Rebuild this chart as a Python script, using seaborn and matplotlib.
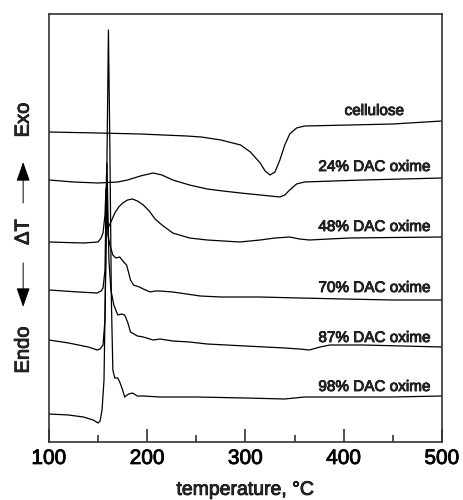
import numpy as np
import pandas as pd
import matplotlib
matplotlib.use("Agg")
import matplotlib.pyplot as plt
import matplotlib.patheffects as pe
import seaborn as sns

# -----------------------------
# DTA curves (temperature in C, signal in arbitrary units)
# -----------------------------
cellulose_T = [100, 150, 193, 240, 255, 275, 295, 305, 315, 320, 325, 330, 335, 340,
               345, 352, 360, 406, 450, 500]
cellulose_y = [368, 367, 366, 364, 363, 360, 355, 348, 337, 329, 325, 328, 340, 355,
               366, 372, 374, 375, 376, 379]

dac24_T = [100, 125, 150, 170, 180, 193, 206, 215, 226, 243, 261, 277, 295, 305, 315,
           325, 335, 340, 345, 352, 360, 389, 420, 460, 500]
dac24_y = [320, 318, 317, 318, 320, 324, 327, 325, 320, 315, 311, 309, 307, 306, 305,
           304, 303, 305, 310, 316, 318, 319, 320, 321, 322]

dac48_T = [100, 135, 150, 153, 155, 157, 158, 159, 160, 163, 167, 171, 175, 180, 185,
           190, 196, 202, 208, 215, 226, 243, 261, 294, 315, 330, 345, 355, 365, 385,
           406, 450, 500]
dac48_y = [258, 257, 258, 262, 267, 285, 312, 278, 272, 278, 287, 293, 297, 300, 301,
           299, 295, 289, 281, 275, 267, 262, 260, 258, 260, 262, 263, 261, 260, 261,
           262, 262.5, 263]

dac70_T = [100, 130, 149, 153, 155, 157, 158.5, 160, 162, 165, 168, 172, 176, 179, 183,
           186, 192, 196, 203, 208, 213, 226, 233, 254, 275, 315, 355, 400, 450, 500]
dac70_y = [210, 208, 207, 209, 212, 230, 325, 265, 255, 245, 242, 243, 238, 235, 220,
           215, 213, 211, 208, 209, 209, 208, 207, 204, 203, 203, 202, 201, 200, 200]

dac87_T = [100, 120, 140, 149, 152, 155, 157, 159, 161, 163, 166, 170, 174, 177, 180,
           183, 190, 196, 206, 213, 226, 243, 261, 300, 340, 355, 365, 376, 386, 420,
           460, 500]
dac87_y = [160, 157, 153, 150, 151, 155, 180, 337, 240, 210, 195, 185, 186, 185, 178,
           168, 164, 163, 160, 161, 159, 158, 156, 154, 152, 151, 150, 153, 155, 155,
           154, 153]

dac98_T = [100, 120, 135, 145, 150, 152, 154, 156, 158, 160.5, 162, 163.5, 165, 167,
           170, 172, 175, 177, 181, 185, 190, 196, 213, 250, 300, 340, 360, 400, 450, 500]
dac98_y = [86, 85, 83, 80, 77, 79, 90, 120, 250, 470, 350, 200, 130, 122, 122, 118,
           110, 103, 106, 107, 104, 104, 103, 103, 102, 101, 103, 103, 103, 104]

curves = [
    ("cellulose", cellulose_T, cellulose_y, 389),
    ("24% DAC oxime", dac24_T, dac24_y, 333),
    ("48% DAC oxime", dac48_T, dac48_y, 273),
    ("70% DAC oxime", dac70_T, dac70_y, 212),
    ("87% DAC oxime", dac87_T, dac87_y, 162),
    ("98% DAC oxime", dac98_T, dac98_y, 113),
]

x_ticks = [100, 200, 300, 400, 500]

# -----------------------------
# Figure
# -----------------------------
sns.set_style("ticks")
plt.rcParams["font.family"] = ["Liberation Sans", "DejaVu Sans"]

# slightly heavier text, like the scanned original
heavy = [pe.withStroke(linewidth=0.6, foreground="black")]

fig = plt.figure(figsize=(4.63, 5.0), dpi=100)
ax = fig.add_axes([0.1058, 0.116, 0.8488, 0.856])

for name, T, y, label_y in curves:
    df = pd.DataFrame({"T": T, "y": y})
    sns.lineplot(data=df, x="T", y="y", ax=ax, color="black", lw=0.9,
                 sort=False, estimator=None)
    ax.text(431, label_y, name, ha="center", va="center", fontsize=11,
            path_effects=heavy)

ax.set_xlim(100, 500)
ax.set_ylim(58, 486)
ax.set_xticks(x_ticks)
ax.set_xticks([150, 250, 350, 450], minor=True)
ax.set_yticks([])
ax.tick_params(axis="x", which="major", direction="in", length=9.5, width=1.1,
               labelsize=15, pad=5, colors="#222222", labelcolor="black")
ax.tick_params(axis="x", which="minor", direction="in", length=5, width=1.1,
               colors="#222222")
for lab in ax.get_xticklabels():
    lab.set_path_effects(heavy)
ax.set_xlabel("temperature, \u00b0C", fontsize=14, labelpad=10, path_effects=heavy)
ax.set_ylabel("")

for side in ["left", "right", "top", "bottom"]:
    ax.spines[side].set_visible(True)
    ax.spines[side].set_linewidth(1.2)
    ax.spines[side].set_color("#333333")

# y label: Exo <- dT -> Endo with arrows
for txt, ypos in [("Exo", 0.76), ("\u0394T", 0.536), ("Endo", 0.30)]:
    fig.text(0.05, ypos, txt, rotation=90, ha="center", va="center",
             fontsize=14.5, path_effects=heavy)
arrow = dict(arrowstyle="-|>,head_length=0.8,head_width=0.28", lw=0.7,
             color="black", mutation_scale=15, shrinkA=0, shrinkB=0)
ax.annotate("", xy=(0.05, 0.676), xytext=(0.05, 0.594), xycoords="figure fraction",
            textcoords="figure fraction", arrowprops=arrow)
ax.annotate("", xy=(0.05, 0.386), xytext=(0.05, 0.474), xycoords="figure fraction",
            textcoords="figure fraction", arrowprops=arrow)

fig.savefig("out.png", dpi=100)
